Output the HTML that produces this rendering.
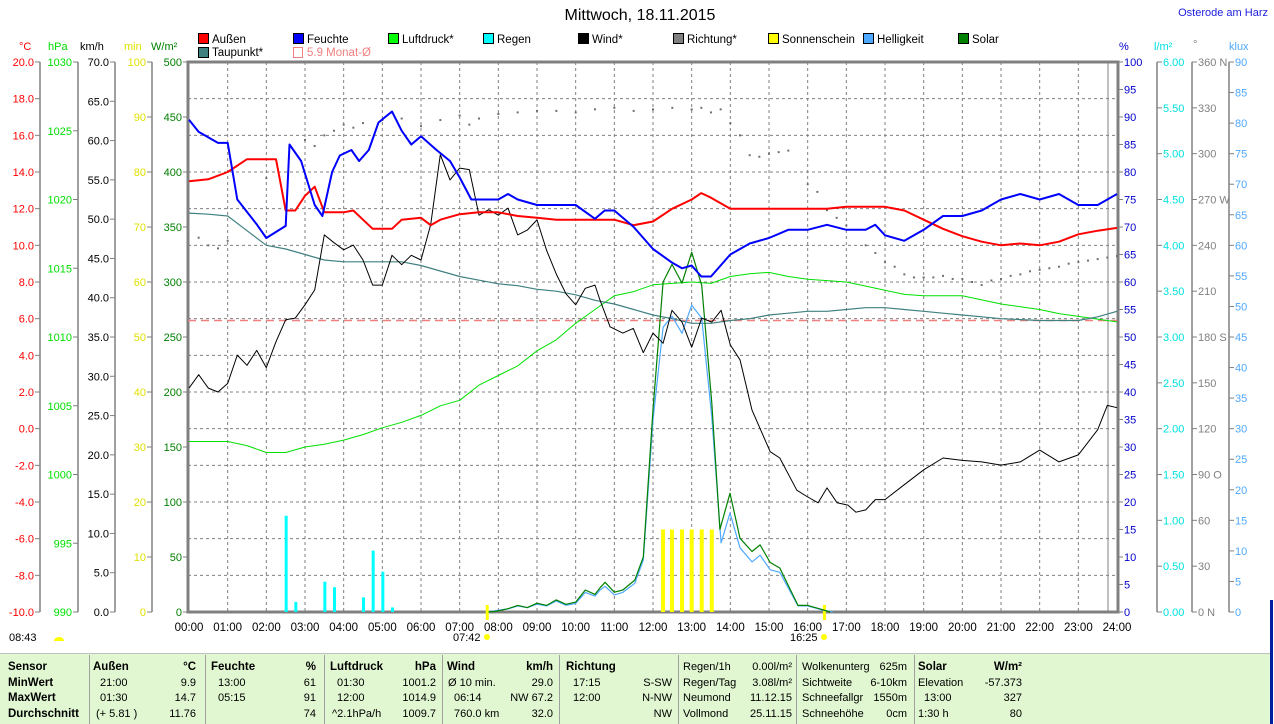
<!DOCTYPE html>
<html><head><meta charset="utf-8"><style>
html,body{margin:0;padding:0;background:#fff;}
svg{display:block;font-family:"Liberation Sans",sans-serif;}
</style></head><body>
<svg id="chart" width="1274" height="724" viewBox="0 0 1274 724" xmlns="http://www.w3.org/2000/svg">
<text x="640" y="20" font-size="16" text-anchor="middle" fill="#000">Mittwoch, 18.11.2015</text>
<text x="1268" y="16" font-size="11" text-anchor="end" fill="#2020e0">Osterode am Harz</text>
<g font-size="11.5">
<g><rect x="198.5" y="33.5" width="10" height="10" fill="#ff0000" stroke="#000"/><text x="212" y="43">Außen</text></g>
<g><rect x="293.5" y="33.5" width="10" height="10" fill="#0000ff" stroke="#000"/><text x="307" y="43">Feuchte</text></g>
<g><rect x="388.5" y="33.5" width="10" height="10" fill="#00ff00" stroke="#000"/><text x="402" y="43">Luftdruck*</text></g>
<g><rect x="483.5" y="33.5" width="10" height="10" fill="#00ffff" stroke="#000"/><text x="497" y="43">Regen</text></g>
<g><rect x="578.5" y="33.5" width="10" height="10" fill="#000" stroke="#000"/><text x="592" y="43">Wind*</text></g>
<g><rect x="673.5" y="33.5" width="10" height="10" fill="#808080" stroke="#000"/><text x="687" y="43">Richtung*</text></g>
<g><rect x="768.5" y="33.5" width="10" height="10" fill="#ffff00" stroke="#000"/><text x="782" y="43">Sonnenschein</text></g>
<g><rect x="863.5" y="33.5" width="10" height="10" fill="#4fa8ff" stroke="#000"/><text x="877" y="43">Helligkeit</text></g>
<g><rect x="958.5" y="33.5" width="10" height="10" fill="#008000" stroke="#000"/><text x="972" y="43">Solar</text></g>
<g><rect x="198.5" y="47.5" width="10" height="10" fill="#408080" stroke="#000"/><text x="212" y="56">Taupunkt*</text></g>
<g><rect x="293.5" y="47.5" width="9" height="10" fill="none" stroke="#f08080"/><text x="307" y="56" fill="#f08080">5.9 Monat-Ø</text></g>
</g>
<g font-size="11">
<text x="19" y="50" fill="#ff0000">°C</text>
<text x="48" y="50" fill="#00e000">hPa</text>
<text x="80" y="50" fill="#000">km/h</text>
<text x="124" y="50" fill="#e0e000">min</text>
<text x="151" y="50" fill="#008000">W/m²</text>
<text x="1119" y="50" fill="#0000cc">%</text>
<text x="1154" y="50" fill="#00e0e0">l/m²</text>
<text x="1193" y="48" fill="#808080">°</text>
<text x="1229" y="50" fill="#4fa8ff">klux</text>
</g>
<g id="grid"></g>
<g id="axes" font-size="11"></g>
<g id="marks"></g>
<g font-size="11">
<text x="9" y="641">08:43</text>
<path d="M54 641 a5 4 0 0 1 10 0 z" fill="#ffff00"/>
<text x="453" y="641">07:42</text>
<circle cx="487" cy="637" r="3" fill="#ffff00"/>
<text x="790" y="641">16:25</text>
<circle cx="824" cy="637" r="3" fill="#ffff00"/>
</g>
<g>
<rect x="0" y="653" width="1270" height="71" fill="#e1f7d1"/>
<line x1="0" y1="653.5" x2="1270" y2="653.5" stroke="#c0c0c0"/>
<g stroke="#a0a0a0">
<line x1="89.5" y1="655" x2="89.5" y2="724"/><line x1="205.5" y1="655" x2="205.5" y2="724"/><line x1="324.5" y1="655" x2="324.5" y2="724"/><line x1="442.5" y1="655" x2="442.5" y2="724"/><line x1="559.5" y1="655" x2="559.5" y2="724"/><line x1="678.5" y1="655" x2="678.5" y2="724"/><line x1="796.5" y1="655" x2="796.5" y2="724"/><line x1="914.5" y1="655" x2="914.5" y2="724"/>
</g>
<line x1="1271.5" y1="600" x2="1271.5" y2="724" stroke="#0020a0" stroke-width="3"/>
<g font-size="11" fill="#000">
<g font-weight="bold" font-size="11.5">
<text x="8" y="670">Sensor</text><text x="8" y="686">MinWert</text><text x="8" y="701">MaxWert</text><text x="8" y="717">Durchschnitt</text>
<text x="93" y="670">Außen</text><text x="196" y="670" text-anchor="end">°C</text>
<text x="211" y="670">Feuchte</text><text x="316" y="670" text-anchor="end">%</text>
<text x="330" y="670">Luftdruck</text><text x="436" y="670" text-anchor="end">hPa</text>
<text x="447" y="670">Wind</text><text x="553" y="670" text-anchor="end">km/h</text>
<text x="566" y="670">Richtung</text>
<text x="918" y="670">Solar</text><text x="1022" y="670" text-anchor="end">W/m²</text>
</g>
<text x="100" y="686">21:00</text><text x="196" y="686" text-anchor="end">9.9</text>
<text x="100" y="701">01:30</text><text x="196" y="701" text-anchor="end">14.7</text>
<text x="96" y="717">(+ 5.81 )</text><text x="196" y="717" text-anchor="end">11.76</text>
<text x="218" y="686">13:00</text><text x="316" y="686" text-anchor="end">61</text>
<text x="218" y="701">05:15</text><text x="316" y="701" text-anchor="end">91</text>
<text x="316" y="717" text-anchor="end">74</text>
<text x="337" y="686">01:30</text><text x="436" y="686" text-anchor="end">1001.2</text>
<text x="337" y="701">12:00</text><text x="436" y="701" text-anchor="end">1014.9</text>
<text x="332" y="717">^2.1hPa/h</text><text x="436" y="717" text-anchor="end">1009.7</text>
<text x="448" y="686">Ø 10 min.</text><text x="553" y="686" text-anchor="end">29.0</text>
<text x="454" y="701">06:14</text><text x="553" y="701" text-anchor="end">NW 67.2</text>
<text x="454" y="717">760.0 km</text><text x="553" y="717" text-anchor="end">32.0</text>
<text x="573" y="686">17:15</text><text x="672" y="686" text-anchor="end">S-SW</text>
<text x="573" y="701">12:00</text><text x="672" y="701" text-anchor="end">N-NW</text>
<text x="672" y="717" text-anchor="end">NW</text>
<text x="683" y="670">Regen/1h</text><text x="792" y="670" text-anchor="end">0.00l/m²</text>
<text x="683" y="686">Regen/Tag</text><text x="792" y="686" text-anchor="end">3.08l/m²</text>
<text x="683" y="701">Neumond</text><text x="792" y="701" text-anchor="end">11.12.15</text>
<text x="683" y="717">Vollmond</text><text x="792" y="717" text-anchor="end">25.11.15</text>
<text x="802" y="670">Wolkenunterg</text><text x="907" y="670" text-anchor="end">625m</text>
<text x="802" y="686">Sichtweite</text><text x="907" y="686" text-anchor="end">6-10km</text>
<text x="802" y="701">Schneefallgr</text><text x="907" y="701" text-anchor="end">1550m</text>
<text x="802" y="717">Schneehöhe</text><text x="907" y="717" text-anchor="end">0cm</text>
<text x="918" y="686">Elevation</text><text x="1022" y="686" text-anchor="end">-57.373</text>
<text x="924" y="701">13:00</text><text x="1022" y="701" text-anchor="end">327</text>
<text x="918" y="717">1:30 h</text><text x="1022" y="717" text-anchor="end">80</text>
</g>
</g>
</svg>
<script>
// ---- data ----
const hourLabels = ["00:00","01:00","02:00","03:00","04:00","05:00","06:00","07:00","08:00","09:00","10:00","11:00","12:00","13:00","14:00","15:00","16:00","17:00","18:00","19:00","20:00","21:00","22:00","23:00","24:00"];
const celsiusTicks = [20,18,16,14,12,10,8,6,4,2,0,-2,-4,-6,-8,-10];
const hpaTicks = [1030,1025,1020,1015,1010,1005,1000,995,990];
const kmhTicks = [70,65,60,55,50,45,40,35,30,25,20,15,10,5,0];
const minTicks = [100,90,80,70,60,50,40,30,20,10,0];
const wm2Ticks = [500,450,400,350,300,250,200,150,100,50,0];
const pctTicks = [100,95,90,85,80,75,70,65,60,55,50,45,40,35,30,25,20,15,10,5,0];
const rainTicks = [6,5.5,5,4.5,4,3.5,3,2.5,2,1.5,1,0.5,0];
const dirTicks = [360,330,300,270,240,210,180,150,120,90,60,30,0];
const dirTickLabels = ["360 N","330","300","270 W","240","210","180 S","150","120","90 O","60","30","0 N"];
const kluxTicks = [90,85,80,75,70,65,60,55,50,45,40,35,30,25,20,15,10,5,0];

const halfHours = [0,0.5,1,1.5,2,2.5,3,3.5,4,4.5,5,5.5,6,6.5,7,7.5,8,8.5,9,9.5,10,10.5,11,11.5,12,12.5,13,13.5,14,14.5,15,15.5,16,16.5,17,17.5,18,18.5,19,19.5,20,20.5,21,21.5,22,22.5,23,23.5,24];
const tempTimes = [0,0.5,1,1.5,2,2.25,2.5,2.75,3,3.25,3.5,4,4.25,4.5,4.75,5,5.25,5.5,6,6.25,6.5,7,7.5,8,8.5,9,9.5,10,10.5,11,11.5,12,12.5,13,13.25,13.5,14,14.5,15,15.5,16,16.5,17,17.5,18,18.5,19,19.5,20,20.5,21,21.5,22,22.5,23,23.5,24];
const tempVals = [13.5,13.6,14.0,14.7,14.7,14.7,11.9,11.9,12.7,13.2,11.8,11.8,11.9,11.4,10.9,10.9,10.9,11.4,11.5,11.1,11.4,11.7,11.8,11.8,11.6,11.5,11.4,11.4,11.4,11.4,11.1,11.3,12.0,12.5,12.85,12.6,12.0,12.0,12.0,12.0,12.0,12.0,12.1,12.1,12.1,11.9,11.4,10.9,10.5,10.2,10.0,10.1,10.0,10.2,10.6,10.8,10.95];
const dewVals = [11.76,11.7,11.6,10.8,10.0,9.8,9.5,9.2,9.1,9.1,9.1,9.1,8.9,8.6,8.3,8.1,7.9,7.8,7.6,7.5,7.3,7.0,6.8,6.5,6.2,6.0,5.75,5.75,5.9,6.0,6.2,6.3,6.4,6.4,6.5,6.6,6.6,6.5,6.4,6.3,6.2,6.1,6.0,5.95,5.9,5.9,5.9,6.1,6.4];
const pressVals = [1002.4,1002.4,1002.4,1002.1,1001.6,1001.6,1002.0,1002.2,1002.5,1002.9,1003.4,1003.8,1004.3,1005.0,1005.4,1006.5,1007.2,1007.9,1009.0,1009.8,1011.0,1012.0,1013.0,1013.3,1013.8,1013.9,1014.0,1013.9,1014.4,1014.6,1014.7,1014.4,1014.2,1014.1,1014.0,1013.7,1013.4,1013.1,1013.0,1013.0,1013.0,1012.7,1012.4,1012.2,1012.0,1011.7,1011.5,1011.3,1011.1];
const humTimes = [0,0.25,0.75,1,1.25,1.75,2,2.5,2.6,2.9,3.25,3.45,3.7,3.9,4.2,4.4,4.65,4.9,5.25,5.5,5.75,6,6.4,6.75,7,7.3,8,8.25,8.5,9,10,10.5,10.75,11,11.5,12,12.5,12.75,13,13.25,13.5,14,14.5,15,15.5,16,16.5,17,17.5,17.75,18,18.5,19,19.5,20,20.5,21,21.5,22,22.5,23,23.5,24];
const humVals = [89.5,87.3,85.3,85.3,75,70.5,68,70.2,85,82,74,72,80,83,84,82,84,89,91,87.5,85,86.5,84,82,79,75,75,76,75,74,74,71.5,73,73,70,66,63.5,62.5,63,61,61,65,67,68,69.5,69.5,70.4,69.5,69.5,70.4,68.5,67.5,69.5,72,72,73,75,76,75,76,74,74,76];
const windTimes = [0,0.25,0.5,0.75,1,1.25,1.5,1.75,2,2.25,2.5,2.75,3,3.25,3.5,3.75,4,4.25,4.5,4.75,5,5.25,5.5,5.75,6,6.25,6.5,6.75,7,7.25,7.5,7.75,8,8.25,8.5,8.75,9,9.25,9.5,9.75,10,10.25,10.5,10.63,10.89,11.22,11.49,11.75,12,12.26,12.49,12.75,13,13.26,13.52,13.76,14,14.25,14.56,15.03,15.28,15.72,15.98,16.27,16.5,16.76,17.04,17.25,17.5,17.75,18,18.5,19,19.5,20,20.5,21,21.5,22,22.5,23,23.5,23.75,24];
const windVals = [28.5,30.2,28.5,28.0,29.1,32.7,31.4,33.3,31.1,34.4,37.2,37.4,39.1,41.0,48.0,47.0,46.1,46.7,44.8,41.6,41.6,45.4,44.2,45.4,44.8,49.3,58.2,55.0,56.5,56.3,50.5,51.2,50.5,51.4,48.0,48.6,49.9,46.0,43.0,40.5,39.1,41.2,41.6,39.7,36.3,35.5,36.1,33.0,35.5,34.2,38.4,36.9,33.7,37.4,36.9,38.4,34.0,32.1,25.7,20.4,19.6,15.5,14.7,13.9,15.8,13.9,13.6,12.7,13.0,14.3,14.3,16.2,18.1,19.6,19.3,19.1,18.7,19.1,20.6,19.1,20.0,23.2,26.3,26.0];
const dirTimes = [0.25,0.5,0.75,1.0,2.0,3.0,3.25,3.5,3.75,4.0,4.25,4.5,5.0,5.5,6.0,6.5,7.0,7.25,7.5,8.0,8.5,9.0,9.5,10.0,10.5,11.0,11.5,12.0,12.5,13.0,13.25,13.5,13.75,14.0,14.25,14.5,14.75,15.0,15.25,15.5,16.0,16.25,16.5,16.75,17.0,17.5,17.75,18.0,18.25,18.5,18.75,19.0,19.25,19.5,19.75,20.0,20.25,20.5,20.75,21.0,21.25,21.5,21.75,22.0,22.25,22.5,22.75,23.0,23.25,23.5,23.75,24.0];
const dirVals = [245,240,238,243,284,309,305,312,315,319,317,320,322,323,318,322,325,319,323,326,327,328,328,327,329,330,328,329,330,329,330,327,329,320,312,299,298,300,301,302,280,275,263,258,253,240,235,229,226,221,219,219,219,220,218,218,216,214,217,218,220,221,223,224,225,226,228,229,230,231,232,233];
const solarTimes = [7.75,8,8.25,8.5,8.75,9,9.25,9.5,9.75,10,10.25,10.5,10.63,10.76,11,11.22,11.53,11.75,12,12.26,12.49,12.75,13,13.26,13.52,13.73,13.99,14.25,14.56,14.77,15.03,15.28,15.75,16,16.4,16.58];
const solarVals = [0,1,3,6,4,8,6,11,7,9,20,16,22,27,18,20,29,50,184,300,316,299,327,297,190,75,108,67,55,61,45,40,6,6,2,0];
const luxTimes = [7.75,8,8.25,8.5,8.75,9,9.25,9.5,9.75,10,10.25,10.5,10.63,10.76,11,11.22,11.53,11.75,12,12.26,12.49,12.75,13,13.26,13.52,13.76,13.99,14.25,14.56,14.77,15.03,15.28,15.75,16,16.4,16.65];
const luxVals = [0,0.3,0.5,1.0,0.7,1.3,1.0,1.8,1.1,1.4,3.2,2.6,3.6,4.2,2.8,3.2,4.7,8.5,31.4,46.6,48.4,45.6,50.2,48.1,31.9,11.3,16.2,10.5,8.2,9.3,6.9,6.5,1.0,1.0,0.3,0];
const sunTimes = [12.26,12.49,12.75,13.0,13.26,13.52];
const sunVals = [15,15,15,15,15,15];
const rainTimes = [2.5,2.75,3.5,3.75,4.5,4.75,5.0,5.25];
const rainVals = [1.05,0.11,0.33,0.27,0.16,0.67,0.44,0.05];
const sunEvents = [7.7,16.42];
const monthMean = 5.9;

// ---- scales ----
const X0 = 189, HW = 38.667, Y0 = 62, YB = 612;
const xT = t => X0 + t * HW;
const yC = v => Y0 + (20 - v) * 550 / 30;
const yH = v => Y0 + (1030 - v) * 550 / 40;
const yK = v => Y0 + (70 - v) * 550 / 70;
const yM = v => YB - v * 5.5;
const yW = v => YB - v * 1.1;
const yP = v => YB - v * 5.5;
const yR = v => YB - v * 550 / 6;
const yD = v => YB - v * 550 / 360;
const yL = v => YB - v * 550 / 90;

const NS = "http://www.w3.org/2000/svg";
function mk(parent, tag, attrs) {
  const e = document.createElementNS(NS, tag);
  for (const k in attrs) e.setAttribute(k, attrs[k]);
  parent.appendChild(e);
  return e;
}
const grid = document.getElementById("grid");
const axes = document.getElementById("axes");
const marks = document.getElementById("marks");

// grid
celsiusTicks.forEach(v => {
  if (v === 20 || v === -10) return;
  const l = mk(grid, "line", {x1: 188, x2: 1117, y1: yC(v), y2: yC(v), stroke: "#808080", "stroke-dasharray": "3,3"});
  
  
});
hourLabels.forEach((lab, i) => {
  if (i > 0 && i < 24) {
    const l = mk(grid, "line", {x1: xT(i), x2: xT(i), y1: 62, y2: 612, stroke: "#808080", "stroke-dasharray": "3,3"});
    
    
  }
  const t = mk(axes, "text", {x: xT(i), y: 631, "text-anchor": "middle", fill: "#000", "font-size": 11.5});
  t.textContent = lab;
  
  
});

// left/right axes
function axis(lineX, ticks, labels, scale, color, side, name) {
  const ln = mk(axes, "line", {x1: lineX, x2: lineX, y1: 62, y2: 612, stroke: "#808080", "stroke-width": 1.5});
  
  
  ticks.forEach((v, i) => {
    const y = scale(v);
    const tk = mk(axes, "line", {x1: side < 0 ? lineX - 5 : lineX, x2: side < 0 ? lineX : lineX + 5, y1: y, y2: y, stroke: "#808080"});
    
    
    const tx = mk(axes, "text", {x: side < 0 ? lineX - 6 : lineX + 6, y: y + 4, "text-anchor": side < 0 ? "end" : "start", fill: color});
    tx.textContent = labels[i];
    
    
  });
}
axis(40, celsiusTicks, celsiusTicks.map(v => v.toFixed(1)), yC, "#ff0000", -1, "celsius");
axis(78, hpaTicks, hpaTicks.map(String), yH, "#00e000", -1, "hpa");
axis(115, kmhTicks, kmhTicks.map(v => v.toFixed(1)), yK, "#000", -1, "kmh");
axis(152, minTicks, minTicks.map(String), yM, "#e0e000", -1, "min");
axis(188, wm2Ticks, wm2Ticks.map(String), yW, "#008000", -1, "wm2");
axis(1118, pctTicks, pctTicks.map(String), yP, "#0000cc", 1, "percent");
axis(1157, rainTicks, rainTicks.map(v => v.toFixed(2)), yR, "#00e0e0", 1, "rain");
axis(1192, dirTicks, dirTickLabels, yD, "#808080", 1, "direction");
axis(1229, kluxTicks, kluxTicks.map(String), yL, "#4fa8ff", 1, "klux");

// plot frame
const frame = mk(axes, "path", {d: "M188 612 L188 62 L1118 62 L1118 612 Z", fill: "none", stroke: "#808080", "stroke-width": 3});


const inner = mk(axes, "line", {x1: 1108, x2: 1108, y1: 62, y2: 612, stroke: "#808080"});



// marks
function poly(ts, vs, scale, color, width, name) {
  const pts = ts.map((t, i) => xT(t).toFixed(1) + "," + scale(vs[i]).toFixed(1)).join(" ");
  const p = mk(marks, "polyline", {points: pts, fill: "none", stroke: color, "stroke-width": width, "stroke-linejoin": "round"});
  
  
}
rainTimes.forEach((t, i) => {
  const r = mk(marks, "rect", {x: xT(t) - 1, y: yR(rainVals[i]), width: 3, height: YB - yR(rainVals[i]), fill: "#00ffff"});
  
  
});
sunTimes.forEach((t, i) => {
  const r = mk(marks, "rect", {x: xT(t) - 2, y: yM(sunVals[i]), width: 4, height: YB - yM(sunVals[i]), fill: "#ffff00"});
  
  
});
sunEvents.forEach(t => {
  const r = mk(marks, "rect", {x: xT(t) - 1, y: 605, width: 3, height: 15, fill: "#ffff00"});
  
  
});
const mm = mk(marks, "line", {x1: 188, x2: 1117, y1: yC(monthMean), y2: yC(monthMean), stroke: "#f08080", "stroke-dasharray": "8,5", "stroke-width": 1.5});


poly(halfHours, pressVals, yH, "#00e000", 1, "pressure-line");
poly(halfHours, dewVals, yC, "#408080", 1.2, "dewpoint-line");
poly(luxTimes, luxVals, yL, "#4fa8ff", 1.2, "brightness-line");
poly(solarTimes, solarVals, yW, "#008000", 1.2, "solar-line");
poly(windTimes, windVals, yK, "#000", 1, "wind-line");
dirTimes.forEach((t, i) => {
  const d = mk(marks, "rect", {x: xT(t) - 1, y: yD(dirVals[i]) - 1, width: 2, height: 2, fill: "#707070"});
  
  
});
poly(tempTimes, tempVals, yC, "#ff0000", 2, "temperature-line");
poly(humTimes, humVals, yP, "#0000ff", 2, "humidity-line");
</script>
</body></html>
